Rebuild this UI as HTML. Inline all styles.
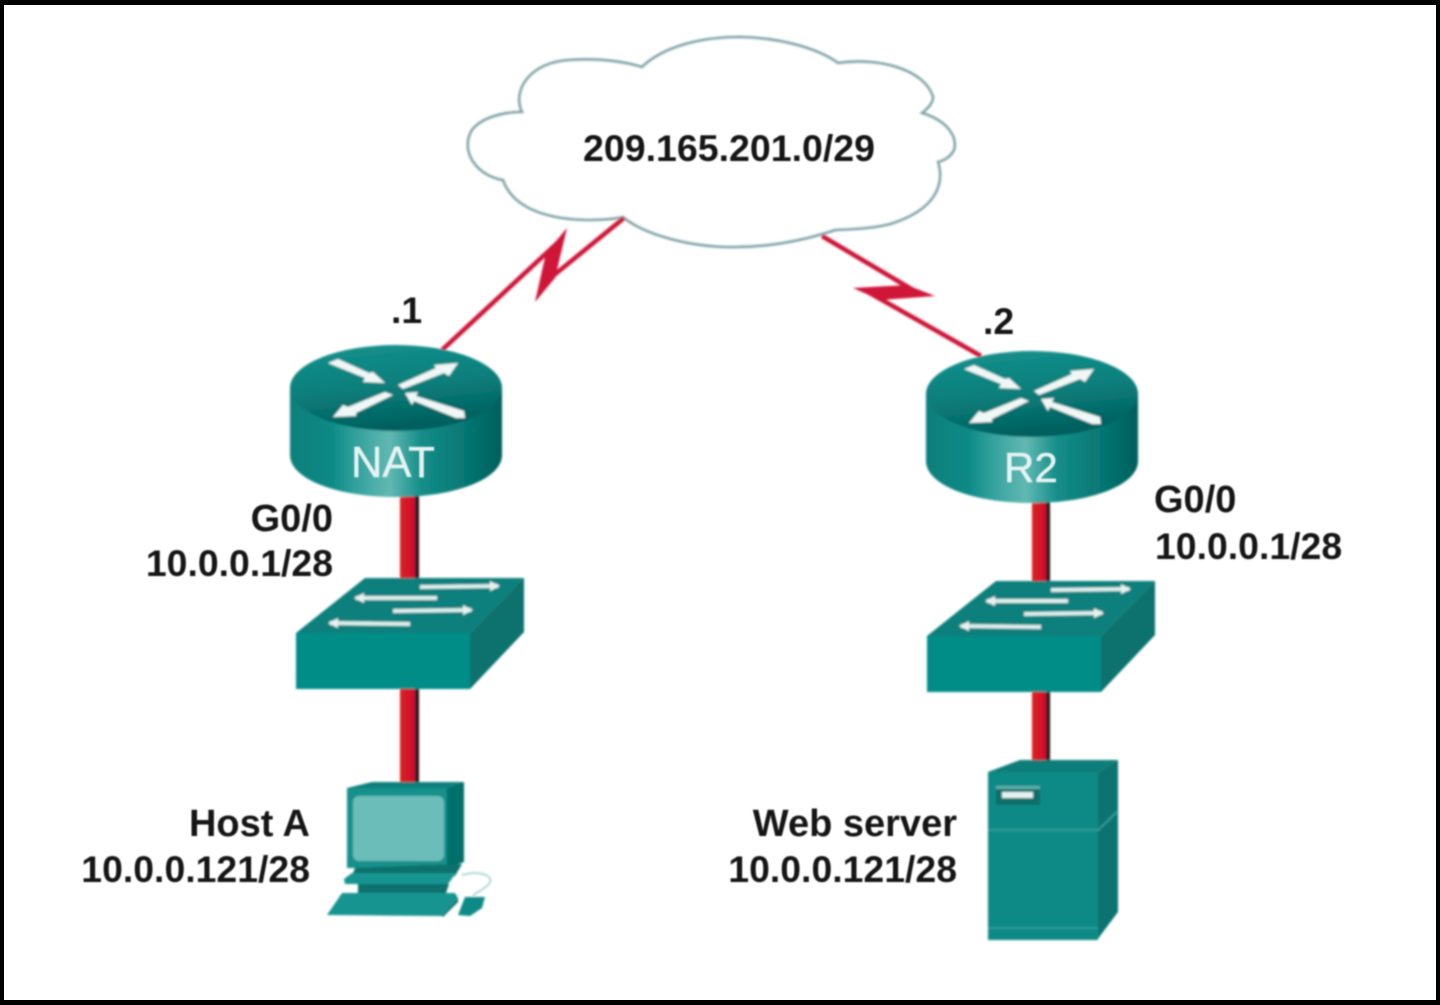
<!DOCTYPE html>
<html>
<head>
<meta charset="utf-8">
<style>
html,body{margin:0;padding:0;background:#fff}
svg{display:block}
text{font-family:"Liberation Sans",sans-serif;font-weight:bold;fill:#151515;font-size:37.4px}
text.w{font-size:38px}
</style>
</head>
<body>
<svg width="1440" height="1005" viewBox="0 0 1440 1005" xmlns="http://www.w3.org/2000/svg">
<defs>
<filter id="b" x="-5%" y="-5%" width="110%" height="110%"><feGaussianBlur stdDeviation="1.1"/></filter>
<filter id="t" x="-5%" y="-20%" width="110%" height="140%"><feGaussianBlur stdDeviation="0.75"/></filter>
<linearGradient id="rb" x1="0" x2="1" y1="0" y2="0">
<stop offset="0" stop-color="#0a7f7b"/><stop offset=".2" stop-color="#0d8a86"/><stop offset=".3" stop-color="#2f9f9b"/>
<stop offset=".47" stop-color="#62b8b3"/><stop offset=".62" stop-color="#158d89"/><stop offset=".8" stop-color="#077a76"/><stop offset="1" stop-color="#035f5c"/>
</linearGradient>
<linearGradient id="rt" x1="0" x2="0.25" y1="0" y2="1">
<stop offset="0" stop-color="#16928e"/><stop offset=".55" stop-color="#0a7f7c"/><stop offset="1" stop-color="#02615f"/>
</linearGradient>
<linearGradient id="rd" x1="0" x2="1" y1="0" y2="0">
<stop offset="0" stop-color="#d9251f"/><stop offset=".78" stop-color="#cf0a31"/><stop offset=".8" stop-color="#2a1a1c"/><stop offset="1" stop-color="#1a1012"/>
</linearGradient>
<marker id="hs" viewBox="0 0 10 10" refX="8" refY="5" markerWidth="30" markerHeight="10" markerUnits="userSpaceOnUse" orient="auto"><path d="M0 0L10 5L0 10z" fill="#e6f3f2"/></marker>
<g id="router">
<path d="M290 388V455C290 479 337 497 396 497C455 497 502 479 502 455V388z" fill="url(#rb)"/>
<ellipse cx="396" cy="388" rx="106" ry="43" fill="url(#rt)"/>
<g fill="#f0f8f7">
<polygon points="328,363 338,359 369,373 373,372 385,383 363,382 365,378"/>
<polygon points="398,385 436,368 434,365 458,363 449,376 444,373 403,389"/>
<polygon points="385,392 393,395 356,413 356,416 333,417 343,405 348,407"/>
<polygon points="405,393 418,392 416,396 464,411 465,418 456,418 414,401 412,405"/>
</g>
</g>
<g id="switch">
<polygon points="296,633 365,578 524,578 470,633" fill="#0c7f7b"/>
<polygon points="470,633 524,578 524,632 470,689" fill="#07716d"/>
<rect x="296" y="633" width="174" height="56" fill="#058d88"/>
<g stroke="#dcefed" stroke-width="4" fill="none">
<line x1="420" y1="587" x2="498" y2="586" marker-end="url(#hs)"/>
<line x1="437" y1="598" x2="356" y2="598" marker-end="url(#hs)"/>
<line x1="393" y1="611" x2="471" y2="610" marker-end="url(#hs)"/>
<line x1="410" y1="624" x2="330" y2="623" marker-end="url(#hs)"/>
</g>
</g>
</defs>

<rect width="1440" height="1005" fill="#000"/>
<rect x="4" y="5" width="1432" height="995" fill="#fff"/>

<g filter="url(#b)">
<!-- cloud -->
<path d="M623 217C605 221 520 228 503 180C475 175 460 150 472 130C482 117 505 112 522 112C512 90 530 62 570 60C600 58 625 62 642 67C665 45 705 37 740 37C785 38 820 50 838 63C880 57 925 70 933 97C933 103 928 108 922 113C945 120 958 135 954 150C950 157 945 160 938 162C945 185 935 210 890 224C870 229 850 229 835 230C805 240 770 247 733 247C690 247 645 235 623 217z" fill="#fff" stroke="#7fa5aa" stroke-width="2.8"/>

<!-- wan links -->
<polyline points="442,350 553,247 548,280 624,218" fill="none" stroke="#cf1238" stroke-width="4.6"/>
<polygon points="567,228 546,253 535,302 555,278" fill="#cf1238"/>
<polyline points="822,236 918,293 868,292 981,356" fill="none" stroke="#cf1238" stroke-width="4.6"/>
<polygon points="853,288 907,285 935,296 880,300" fill="#cf1238"/>

<!-- lan links -->
<rect x="400" y="495" width="19" height="85" fill="url(#rd)"/>
<rect x="400" y="688" width="19" height="96" fill="url(#rd)"/>
<rect x="1032" y="500" width="18" height="83" fill="url(#rd)"/>
<rect x="1032" y="690" width="18" height="72" fill="url(#rd)"/>

<use href="#router"/>
<use href="#router" transform="translate(636,6)"/>
<use href="#switch"/>
<use href="#switch" transform="translate(631,3)"/>

<!-- host -->
<polygon points="347,788 372,782 464,782 447,788" fill="#0d807c"/>
<polygon points="447,788 464,782 464,862 447,868" fill="#066f6b"/>
<rect x="347" y="788" width="100" height="80" fill="#13908b"/>
<rect x="353" y="796" width="91" height="65" rx="6" fill="#6bbdb9"/>
<polygon points="355,868 462,864 455,876 352,876" fill="#086f6b"/>
<polygon points="352,873 456,873 448,884 345,884 344,879" fill="#149490"/>
<polygon points="358,884 449,884 446,893 358,893" fill="#08716d"/>
<polygon points="342,893 455,893 458,898 442,916 327,915" fill="#159490"/>
<polygon points="442,916 458,898 458,902 443,917" fill="#0a6f6b"/>
<polygon points="465,897 485,897 482,908 470,916 458,915" fill="#118a86"/>
<path d="M462 875C480 870 495 876 489 884C482 891 476 892 473 896" fill="none" stroke="#a9d4d2" stroke-width="1.8"/>

<!-- server -->
<polygon points="988,772 1020,760 1118,760 1098,772" fill="#0b7d79"/>
<polygon points="1098,772 1118,760 1118,912 1097,940" fill="#07736f"/>
<rect x="988" y="772" width="110" height="168" fill="#0a8a85"/>
<polygon points="996,787 1040,787 1040,805 996,805" fill="#0a6e6a"/>
<rect x="996" y="786" width="44" height="3" fill="#5fb0ac"/>
<rect x="1002" y="792" width="31" height="6" fill="#e5f3f2"/>
<polyline points="988,830 1098,830 1118,811" fill="none" stroke="#2f9c98" stroke-width="2"/>
<line x1="988" y1="928" x2="1098" y2="928" stroke="#2f9c98" stroke-width="2"/>
</g>

<g filter="url(#t)">
<text x="583" y="161" textLength="292" lengthAdjust="spacingAndGlyphs">209.165.201.0/29</text>
<text x="391" y="323">.1</text>
<text x="983" y="334">.2</text>
<text class="w" x="333" y="531" text-anchor="end">G0/0</text>
<text x="333" y="576" text-anchor="end">10.0.0.1/28</text>
<text class="w" x="1154" y="512">G0/0</text>
<text x="1155" y="559">10.0.0.1/28</text>
<text class="w" x="310" y="836" text-anchor="end">Host A</text>
<text x="310" y="882" text-anchor="end">10.0.0.121/28</text>
<text class="w" x="957" y="836" text-anchor="end">Web server</text>
<text x="957" y="882" text-anchor="end">10.0.0.121/28</text>
<text x="351" y="477" style="font-weight:normal;fill:#e4f3f2;font-size:43.5px;stroke:#e4f3f2;stroke-width:.5">NAT</text>
<text x="1004" y="482" style="font-weight:normal;fill:#e4f3f2;font-size:42px;stroke:#e4f3f2;stroke-width:.5">R2</text>
</g>
</svg>
</body>
</html>
